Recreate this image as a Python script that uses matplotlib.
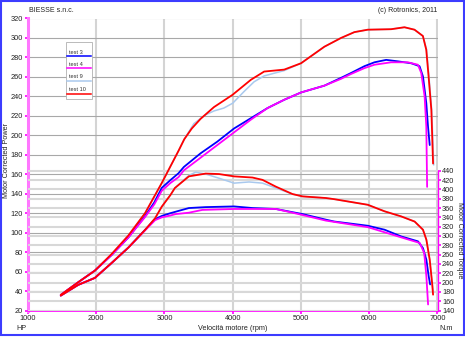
import matplotlib
matplotlib.use("Agg")
import matplotlib.pyplot as plt
from matplotlib.patches import Rectangle

plt.rcParams["font.family"] = ["Liberation Sans", "DejaVu Sans"]

# ---------------------------------------------------------------------------
# Dyno runs: power [HP] and torque [N.m] versus engine speed [rpm]
# ---------------------------------------------------------------------------

# test 10 (red)
rpm_p10 = [1480, 1735, 1980, 2225, 2470, 2715, 2960, 3205, 3290, 3400, 3530, 3725,
           3995, 4265, 4460, 4754, 5000, 5342, 5586, 5782, 5978, 6320, 6516, 6663,
           6786, 6835, 6870, 6910, 6935]
hp_10 = [36, 49, 61, 78, 97, 120, 151, 184, 196, 207, 217, 229,
         241.5, 257, 265.5, 267.5, 274, 291, 300, 306, 308.5, 309, 311, 308.5,
         302, 288, 260, 226, 171]
rpm_t10 = [1480, 1735, 1980, 2225, 2470, 2715, 2862, 2960, 3087, 3152, 3357, 3603,
           3799, 4019, 4289, 4436, 4631, 4876, 5024, 5366, 5489, 5979, 6224, 6469,
           6665, 6787, 6837, 6886, 6921, 6935]
nm_10 = [172, 195, 210, 242, 275, 313, 338, 363, 388, 403, 428, 434,
         433, 428, 425.5, 420.5, 406, 390, 385, 381.5, 379, 367, 353, 342,
         331, 313.5, 292, 249, 199, 174]

# test 9 (light blue)
rpm_p9 = [1480, 1735, 1980, 2225, 2470, 2715, 2960, 3205, 3290, 3430, 3600, 3725,
          3870, 4000, 4166, 4313, 4460, 4754, 5000, 5342, 5586, 5782, 5978, 6320,
          6516, 6663, 6786, 6840, 6875, 6915, 6945]
hp_9 = [36, 49, 61, 78, 97, 120, 151, 184, 196, 212, 221, 225,
        228, 233, 245, 255, 261, 266.5, 274, 291, 300, 306, 308.5, 309,
        311, 308.5, 302, 288, 260, 226, 169.5]
rpm_t9 = [1480, 1735, 1980, 2225, 2470, 2715, 2862, 2960, 3087, 3152, 3357, 3455,
          3603, 3799, 4019, 4239, 4436, 4631, 4876, 5024, 5366, 5489, 5979, 6224,
          6469, 6665, 6787, 6837, 6886, 6921, 6940]
nm_9 = [172, 195, 210, 242, 275, 313, 338, 363, 388, 403, 430, 437,
        433, 424, 413.5, 416, 413.5, 403, 390, 385, 381.5, 379, 367, 353,
        342, 331, 313.5, 292, 249, 199, 178]

# test 3 (blue)
rpm_p3 = [1480, 1735, 1980, 2225, 2470, 2715, 2850, 2960, 3087, 3205, 3284, 3529,
          3774, 4019, 4264, 4510, 4754, 5000, 5342, 5586, 5733, 5929, 6076, 6248,
          6419, 6615, 6737, 6787, 6836, 6861, 6886]
hp_3 = [36, 49, 61, 77, 95, 117, 131, 146, 154, 161, 167.5, 181.5,
        193.5, 207, 217.5, 228, 236.5, 244, 251, 259, 264, 271, 275, 277.5,
        276, 274, 271, 260.5, 233, 209, 190]
rpm_t3 = [1480, 1735, 1980, 2225, 2470, 2715, 2862, 2960, 3087, 3160, 3357, 3603,
          4019, 4289, 4631, 5024, 5366, 5489, 5979, 6224, 6469, 6714, 6787, 6837,
          6871, 6892]
nm_3 = [172, 195, 210, 242, 275, 313, 336, 343, 349, 352, 360, 362,
        363.5, 360, 358, 347, 335, 331, 322, 313.5, 299, 288.5, 274, 249,
        213.5, 196]

# test 4 (magenta)
rpm_p4 = [1480, 1735, 1980, 2225, 2470, 2715, 2850, 2960, 3087, 3205, 3284, 3529,
          3774, 4019, 4264, 4510, 4754, 5000, 5342, 5586, 5733, 5929, 6076, 6321,
          6566, 6713, 6762, 6811, 6836, 6848]
hp_4 = [36, 49, 61, 77, 95, 116, 129, 143, 151, 157, 164, 177,
        190, 203, 216, 228, 236.5, 244, 251, 258, 263, 269, 272.5, 275,
        275, 272.5, 264, 240, 209, 147]
rpm_t4 = [1480, 1735, 1980, 2225, 2470, 2715, 2862, 2960, 3087, 3162, 3357, 3554,
          4019, 4631, 4876, 5024, 5366, 5979, 6469, 6740, 6805, 6837, 6862]
nm_4 = [172, 195, 210, 242, 275, 312, 334, 340, 344, 347, 350, 356,
        358, 358, 350, 345, 333, 319, 297, 285, 263.5, 213.5, 153]

runs = [
    ("test 9", "#a9c9ee", rpm_p9, hp_9, rpm_t9, nm_9),
    ("test 3", "#0000ff", rpm_p3, hp_3, rpm_t3, nm_3),
    ("test 4", "#ff00ff", rpm_p4, hp_4, rpm_t4, nm_4),
    ("test 10", "#ff0000", rpm_p10, hp_10, rpm_t10, nm_10),
]
legend_order = ["test 3", "test 4", "test 9", "test 10"]

rpm_ticks = list(range(1000, 7001, 1000))
hp_ticks = list(range(20, 321, 20))
nm_ticks = list(range(140, 441, 20))

# ---------------------------------------------------------------------------
# Figure
# ---------------------------------------------------------------------------
W, H = 465, 340
fig = plt.figure(figsize=(W / 100, H / 100), dpi=100)
ax = fig.add_axes([28 / W, (H - 310.5) / H, 409.5 / W, 292 / H])
ax2 = ax.twinx()

fs = 5.3
txt = "#222222"
mag = "#ff00ff"

ax.set_xlim(1000, 7000)
ax.set_ylim(20, 320)
ax2.set_ylim(140, 767)

ax.set_xticks(rpm_ticks)
ax.set_yticks(hp_ticks)
ax2.set_yticks(nm_ticks)

# grids: speed and power on the lower axes, torque on the upper one
ax.grid(axis="x", color="#d4d4d4", lw=1.5)
ax.grid(axis="y", color="#a8a8a8", lw=0.8)
ax2.grid(axis="y", color="#d8d8d8", lw=1.5)
ax.set_axisbelow(True)
ax2.set_axisbelow(True)

for s in ("top", "right"):
    ax.spines[s].set_visible(False)
for s in ("top", "left", "bottom"):
    ax2.spines[s].set_visible(False)
ax.spines["left"].set_color("#ff77ff")
ax.spines["left"].set_linewidth(2.2)
ax.spines["bottom"].set_color(mag)
ax.spines["bottom"].set_linewidth(1.2)
ax2.spines["right"].set_color(mag)
ax2.spines["right"].set_linewidth(1.0)
ax2.spines["right"].set_bounds(140, 440)

ax.tick_params(axis="both", length=2.5, width=1.2, color=mag, labelcolor=txt,
               labelsize=fs, pad=1)
ax2.tick_params(axis="y", length=2.5, width=1.2, color=mag, labelcolor=txt,
                labelsize=fs, pad=0.8)

# curves: all drawn on the top axes so they sit above every grid line
for name, col, rp, hp, rt, nm in runs:
    lw = 1.1 if name == "test 9" else 1.3
    ax2.plot(rp, hp, color=col, lw=lw, transform=ax.transData,
             solid_joinstyle="round", solid_capstyle="round")
    ax2.plot(rt, nm, color=col, lw=lw,
             solid_joinstyle="round", solid_capstyle="round")
ax2.set_ylim(140, 767)
ax.set_xlim(1000, 7000)

# legend box
ax.add_patch(Rectangle((0.0928, 0.724), 0.0635, 0.1955, transform=ax.transAxes,
                       facecolor="white", edgecolor="#b0b0b0", lw=0.6, zorder=5))
colors = {r[0]: r[1] for r in runs}
text_y = [0.883, 0.842, 0.800, 0.756]
line_y = [0.870, 0.829, 0.785, 0.743]
for name, ty, ly in zip(legend_order, text_y, line_y):
    ax.text(0.1003, ty, name, transform=ax.transAxes, fontsize=4.1, color="#333333",
            va="center", ha="left", zorder=6)
    ax.plot([0.0964, 0.1537], [ly, ly], transform=ax.transAxes, color=colors[name],
            lw=1.1, zorder=6)

# labels and captions
fig.text(29 / W, (H - 10) / H, "BIESSE s.n.c.", fontsize=5, color=txt,
         ha="left", va="center")
fig.text(437 / W, (H - 10) / H, "(c) Rotronics, 2011", fontsize=5, color=txt,
         ha="right", va="center")
fig.text(232.5 / W, (H - 328) / H, "Velocità motore (rpm)", fontsize=5.2, color=txt,
         ha="center", va="center")
fig.text(16 / W, (H - 328) / H, "HP", fontsize=5.2, color=txt, ha="left", va="center")
fig.text(439 / W, (H - 329) / H, "N.m", fontsize=5.2, color=txt, ha="left", va="center")
fig.text(7 / W, (H - 160) / H, "Motor Corrected Power", fontsize=5.2, color=txt,
         rotation=90, ha="center", va="center")
fig.text(459 / W, (H - 240) / H, "Motor Corrected Torque", fontsize=5.2, color=txt,
         rotation=270, ha="center", va="center")

# blue frame around the whole chart
fig.add_artist(Rectangle((1 / W, 5 / H), 462.5 / W, 334 / H, transform=fig.transFigure,
                         fill=False, edgecolor="#3c3cff", lw=1.5))

fig.savefig("out.png", dpi=100)
